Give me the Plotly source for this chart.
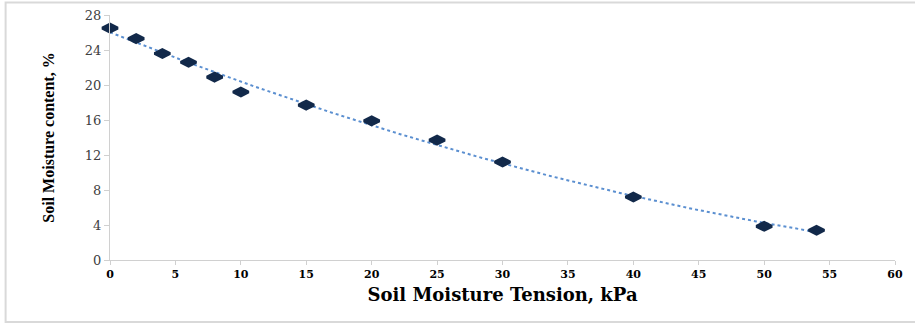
import numpy as np
import plotly.graph_objects as go

# Measured soil moisture retention data
tension_kpa = [0, 2, 4, 6, 8, 10, 15, 20, 25, 30, 40, 50, 54]
moisture_pct = [26.5, 25.3, 23.6, 22.6, 20.9, 19.2, 17.7, 15.9, 13.7, 11.2, 7.2, 3.85, 3.4]

x_ticks = [0, 5, 10, 15, 20, 25, 30, 35, 40, 45, 50, 55, 60]
y_ticks = [0, 4, 8, 12, 16, 20, 24, 28]

# Second-order polynomial trendline fitted to the measurements
coef = np.polyfit(tension_kpa, moisture_pct, 2)
trend_x = np.linspace(min(tension_kpa), max(tension_kpa), 200)
trend_y = np.polyval(coef, trend_x)

fig = go.Figure()
fig.add_trace(go.Scatter(
    x=trend_x, y=trend_y, mode="lines",
    line=dict(color="#5b8fd0", width=2, dash="dot"),
    hoverinfo="skip", showlegend=False, cliponaxis=False,
))
fig.add_trace(go.Scatter(
    x=tension_kpa, y=moisture_pct, mode="markers",
    marker=dict(symbol="diamond-wide", size=11, color="#12294a",
                line=dict(color="#12294a", width=3)),
    showlegend=False, cliponaxis=False,
))

axis_line = "#d0d0d0"
fig.update_layout(
    width=915, height=324,
    margin=dict(l=110, r=20, t=15, b=64),
    paper_bgcolor="white", plot_bgcolor="white",
    font=dict(family="Liberation Serif", color="#000000"),
    xaxis=dict(
        range=[0, 60], tickvals=x_ticks, ticktext=[str(v) for v in x_ticks],
        showgrid=False, zeroline=False, showline=True, linecolor=axis_line, linewidth=1,
        ticks="outside", ticklen=4, tickcolor=axis_line, automargin=False,
        tickfont=dict(family="DejaVu Serif", size=11, color="#000000", weight="bold"),
        title=dict(text="<b>Soil Moisture Tension, kPa</b>",
                   font=dict(family="DejaVu Serif", size=18, color="#000000"),
                   standoff=8),
    ),
    yaxis=dict(
        range=[0, 28], tickvals=y_ticks, ticktext=[str(v) for v in y_ticks],
        showgrid=False, zeroline=False, showline=True, linecolor=axis_line, linewidth=1,
        ticks="outside", ticklen=5, tickcolor=axis_line, automargin=False,
        tickfont=dict(family="DejaVu Serif", size=13, color="#404040"),
        title=dict(text="<b>Soil Moisture content, %</b>",
                   font=dict(family="Liberation Serif", size=16, color="#000000"),
                   standoff=26),
    ),
    shapes=[dict(
        type="rect", xref="paper", yref="paper",
        x0=-0.133, x1=1.04, y0=-0.253, y1=1.051,
        line=dict(color="#d9d9d9", width=2), layer="below",
    )],
)

fig.write_html("out.html")
